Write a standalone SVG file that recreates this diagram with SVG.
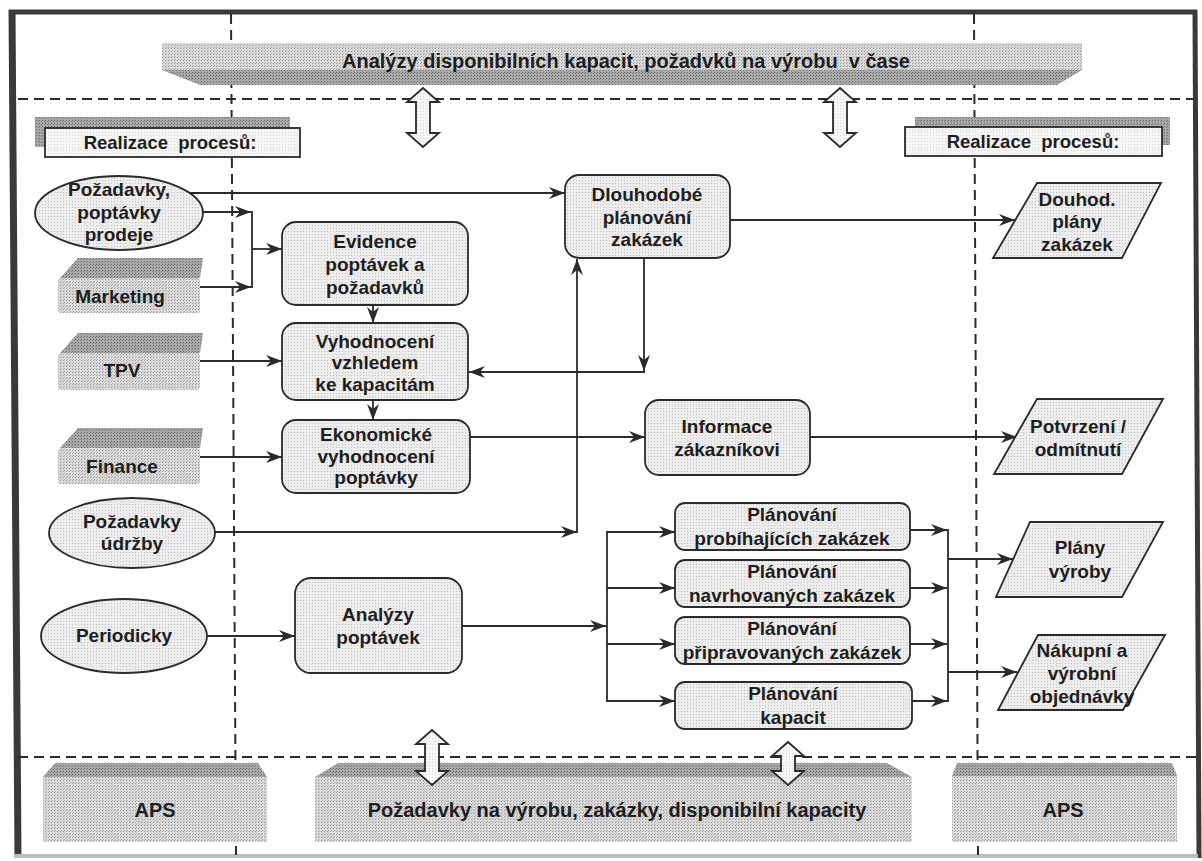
<svg xmlns="http://www.w3.org/2000/svg" width="1202" height="861" viewBox="0 0 1202 861">
  <defs>
    <!-- halftone-like fills -->
    <pattern id="dotL" width="3" height="3" patternUnits="userSpaceOnUse">
      <rect width="3" height="3" fill="#ededed"/>
      <rect width="1" height="1" fill="#c2c2c2"/>
    </pattern>
    <pattern id="dotW" width="3" height="3" patternUnits="userSpaceOnUse">
      <rect width="3" height="3" fill="#f6f6f6"/>
      <rect width="1" height="1" fill="#d6d6d6"/>
    </pattern>
    <pattern id="dotM" width="3" height="3" patternUnits="userSpaceOnUse">
      <rect width="3" height="3" fill="#d9d9d9"/>
      <rect width="1" height="1" fill="#9a9a9a"/>
      <rect x="1" y="2" width="1" height="1" fill="#b0b0b0"/>
    </pattern>
    <pattern id="dotD" width="3" height="3" patternUnits="userSpaceOnUse">
      <rect width="3" height="3" fill="#a9a9a9"/>
      <rect width="1" height="1" fill="#6a6a6a"/>
      <rect x="2" y="1" width="1" height="1" fill="#808080"/>
    </pattern>
    <marker id="arr" viewBox="0 0 16 12" markerWidth="16" markerHeight="12" refX="16" refY="6" orient="auto" markerUnits="userSpaceOnUse">
      <path d="M0,0 L16,6 L0,12 L5,6 Z" fill="#2b2b2b"/>
    </marker>
    <style>
      .t { font-family: "Liberation Sans", Arial, sans-serif; font-weight: bold; font-size: 19px; fill: #1e1e1e; text-anchor: middle; white-space: pre; }
      .big { font-size: 20px; }
      .lbl { font-size: 18.5px; }
      .node { fill: url(#dotL); stroke: #2b2b2b; stroke-width: 1.8; }
      .face { fill: url(#dotM); }
      .bevel { fill: url(#dotD); }
      .label { fill: url(#dotW); stroke: #2b2b2b; stroke-width: 1.8; }
      .dash { stroke: #2b2b2b; stroke-width: 2; stroke-dasharray: 10 6; fill: none; }
      .edge { stroke: #2b2b2b; stroke-width: 1.8; fill: none; }
      .dbl { fill: url(#dotW); stroke: #2b2b2b; stroke-width: 1.8; }
    </style>
  </defs>

  <rect width="1202" height="861" fill="#ffffff"/>

  <!-- outer frame -->
  <g id="frame">
    <line x1="9" y1="12" x2="1197" y2="12" stroke="#3a3a3a" stroke-width="5"/>
    <line x1="12" y1="10" x2="18" y2="858" stroke="#3a3a3a" stroke-width="7"/>
    <line x1="1195" y1="10" x2="1199" y2="858" stroke="#3a3a3a" stroke-width="5"/>
    <line x1="14" y1="856" x2="1198" y2="856" stroke="#bdbdbd" stroke-width="4"/>
  </g>

  <!-- swimlane separators -->
  <g id="lanes">
    <line class="dash" x1="18" y1="99" x2="1194" y2="99"/>
    <line class="dash" x1="18" y1="757" x2="1196" y2="757"/>
    <line class="dash" x1="231" y1="14" x2="236" y2="855"/>
    <line class="dash" x1="974" y1="14" x2="978" y2="855"/>
  </g>

  <!-- top banner -->
  <g id="banner-top">
    <rect class="face" x="162" y="43" width="920" height="27"/>
    <polygon class="bevel" points="162,70 1082,70 1057,85 200,85"/>
    <text class="t big" x="626" y="68">Analýzy disponibilních kapacit, požadvků na výrobu  v čase</text>
  </g>

  <!-- bottom banners -->
  <g id="aps-left">
    <polygon class="bevel" points="55,763 258,763 267,777 43,777"/>
    <rect class="face" x="43" y="777" width="224" height="65"/>
    <text class="t big" x="155" y="817">APS</text>
  </g>
  <g id="banner-bottom">
    <polygon class="bevel" points="338,763 887,763 912,777 315,777"/>
    <rect class="face" x="315" y="777" width="597" height="65"/>
    <text class="t big" x="617" y="817">Požadavky na výrobu, zakázky, disponibilní kapacity</text>
  </g>
  <g id="aps-right">
    <polygon class="bevel" points="957,763 1172,763 1177,776 952,776"/>
    <rect class="face" x="952" y="776" width="225" height="66"/>
    <text class="t big" x="1063" y="817">APS</text>
  </g>

  <!-- double arrows between layers -->
  <g id="exchange">
    <path class="dbl" d="M423,88 L439,102 L430,102 L430,133 L439,133 L423,147 L407,133 L416,133 L416,102 L407,102 Z"/>
    <path class="dbl" d="M840,88 L856,102 L847,102 L847,133 L856,133 L840,147 L824,133 L833,133 L833,102 L824,102 Z"/>
    <path class="dbl" d="M432,730 L448,744 L439,744 L439,771 L448,771 L432,785 L416,771 L425,771 L425,744 L416,744 Z"/>
    <path class="dbl" d="M788,742 L804,756 L795,756 L795,771 L804,771 L788,785 L772,771 L781,771 L781,756 L772,756 Z"/>
  </g>

  <!-- lane headings -->
  <g id="heading-left">
    <polygon class="bevel" points="35,117 290,117 290,128 45,128 45,147 35,147"/>
    <rect class="label" x="45" y="128" width="255" height="29"/>
    <text class="t lbl" x="170" y="149">Realizace  procesů:</text>
  </g>
  <g id="heading-right">
    <polygon class="bevel" points="915,117 1170,117 1170,145 1162,145 1162,127 915,127"/>
    <rect class="label" x="905" y="127" width="257" height="29"/>
    <text class="t lbl" x="1033" y="148">Realizace  procesů:</text>
  </g>

  <!-- connectors -->
  <g id="connectors">
    <line class="edge" x1="188" y1="193" x2="565" y2="193" marker-end="url(#arr)"/>
    <line class="edge" x1="202" y1="212" x2="251" y2="212" marker-end="url(#arr)"/>
    <line class="edge" x1="200" y1="287" x2="251" y2="287" marker-end="url(#arr)"/>
    <line class="edge" x1="252" y1="211" x2="252" y2="288"/>
    <line class="edge" x1="252" y1="249" x2="282" y2="249" marker-end="url(#arr)"/>
    <line class="edge" x1="373" y1="305" x2="373" y2="323" marker-end="url(#arr)"/>
    <line class="edge" x1="373" y1="400" x2="373" y2="420" marker-end="url(#arr)"/>
    <line class="edge" x1="200" y1="361" x2="282" y2="361" marker-end="url(#arr)"/>
    <line class="edge" x1="200" y1="457" x2="282" y2="457" marker-end="url(#arr)"/>
    <line class="edge" x1="644" y1="258" x2="644" y2="371" marker-end="url(#arr)"/>
    <line class="edge" x1="645" y1="372" x2="469" y2="372" marker-end="url(#arr)"/>
    <line class="edge" x1="469" y1="437" x2="645" y2="437" marker-end="url(#arr)"/>
    <line class="edge" x1="810" y1="437" x2="1017" y2="437" marker-end="url(#arr)"/>
    <line class="edge" x1="730" y1="220" x2="1015" y2="220" marker-end="url(#arr)"/>
    <line class="edge" x1="215" y1="532" x2="577" y2="532" marker-end="url(#arr)"/>
    <line class="edge" x1="577" y1="533" x2="577" y2="259" marker-end="url(#arr)"/>
    <line class="edge" x1="207" y1="636" x2="295" y2="636" marker-end="url(#arr)"/>
    <line class="edge" x1="462" y1="626" x2="606" y2="626" marker-end="url(#arr)"/>
    <line class="edge" x1="607" y1="531" x2="607" y2="702"/>
    <line class="edge" x1="607" y1="532" x2="675" y2="532" marker-end="url(#arr)"/>
    <line class="edge" x1="607" y1="588" x2="675" y2="588" marker-end="url(#arr)"/>
    <line class="edge" x1="607" y1="644" x2="675" y2="644" marker-end="url(#arr)"/>
    <line class="edge" x1="607" y1="701" x2="675" y2="701" marker-end="url(#arr)"/>
    <line class="edge" x1="910" y1="530" x2="947" y2="530" marker-end="url(#arr)"/>
    <line class="edge" x1="910" y1="588" x2="947" y2="588" marker-end="url(#arr)"/>
    <line class="edge" x1="910" y1="644" x2="947" y2="644" marker-end="url(#arr)"/>
    <line class="edge" x1="912" y1="701" x2="947" y2="701" marker-end="url(#arr)"/>
    <line class="edge" x1="948" y1="529" x2="948" y2="702"/>
    <line class="edge" x1="948" y1="559" x2="1013" y2="559" marker-end="url(#arr)"/>
    <line class="edge" x1="948" y1="672" x2="1017" y2="672" marker-end="url(#arr)"/>
  </g>

  <!-- sources -->
  <g id="n-pozadavky-prodeje">
    <ellipse class="node" cx="119" cy="213" rx="84" ry="37"/>
    <text class="t" x="119" y="196">Požadavky,</text>
    <text class="t" x="119" y="219">poptávky</text>
    <text class="t" x="119" y="241">prodeje</text>
  </g>
  <g id="n-marketing">
    <polygon class="bevel" points="60,278 78,258 203,258 200,278"/>
    <rect class="face" x="58" y="278" width="142" height="35" rx="3"/>
    <text class="t" x="120" y="303">Marketing</text>
  </g>
  <g id="n-tpv">
    <polygon class="bevel" points="60,353 78,333 203,333 200,353"/>
    <rect class="face" x="58" y="353" width="142" height="37" rx="3"/>
    <text class="t" x="122" y="377">TPV</text>
  </g>
  <g id="n-finance">
    <polygon class="bevel" points="60,448 78,428 203,428 200,448"/>
    <rect class="face" x="58" y="448" width="142" height="36" rx="3"/>
    <text class="t" x="122" y="473">Finance</text>
  </g>
  <g id="n-pozadavky-udrzby">
    <ellipse class="node" cx="132" cy="533" rx="83" ry="35"/>
    <text class="t" x="132" y="528">Požadavky</text>
    <text class="t" x="132" y="550">údržby</text>
  </g>
  <g id="n-periodicky">
    <ellipse class="node" cx="124" cy="636" rx="83" ry="37"/>
    <text class="t" x="124" y="642">Periodicky</text>
  </g>

  <!-- processes -->
  <g id="n-evidence">
    <rect class="node" x="282" y="222" width="186" height="83" rx="14"/>
    <text class="t" x="375" y="248">Evidence</text>
    <text class="t" x="375" y="271">poptávek a</text>
    <text class="t" x="375" y="294">požadavků</text>
  </g>
  <g id="n-vyhodnoceni">
    <rect class="node" x="282" y="323" width="186" height="77" rx="14"/>
    <text class="t" x="375" y="348">Vyhodnocení</text>
    <text class="t" x="375" y="369">vzhledem</text>
    <text class="t" x="375" y="391">ke kapacitám</text>
  </g>
  <g id="n-ekonomicke">
    <rect class="node" x="282" y="420" width="188" height="73" rx="14"/>
    <text class="t" x="376" y="441">Ekonomické</text>
    <text class="t" x="376" y="463">vyhodnocení</text>
    <text class="t" x="376" y="484">poptávky</text>
  </g>
  <g id="n-dlouhodobe">
    <rect class="node" x="565" y="175" width="165" height="83" rx="14"/>
    <text class="t" x="647" y="201">Dlouhodobé</text>
    <text class="t" x="647" y="224">plánování</text>
    <text class="t" x="647" y="246">zakázek</text>
  </g>
  <g id="n-informace">
    <rect class="node" x="645" y="400" width="165" height="75" rx="14"/>
    <text class="t" x="727" y="433">Informace</text>
    <text class="t" x="727" y="456">zákazníkovi</text>
  </g>
  <g id="n-analyzy">
    <rect class="node" x="295" y="578" width="167" height="95" rx="16"/>
    <text class="t" x="378" y="621">Analýzy</text>
    <text class="t" x="378" y="644">poptávek</text>
  </g>
  <g id="n-plan-probihajici">
    <rect class="node" x="675" y="503" width="235" height="47" rx="10"/>
    <text class="t" x="792" y="521">Plánování</text>
    <text class="t" x="792" y="545">probíhajících zakázek</text>
  </g>
  <g id="n-plan-navrhovane">
    <rect class="node" x="675" y="560" width="235" height="47" rx="10"/>
    <text class="t" x="792" y="578">Plánování</text>
    <text class="t" x="792" y="602">navrhovaných zakázek</text>
  </g>
  <g id="n-plan-pripravovane">
    <rect class="node" x="675" y="617" width="235" height="47" rx="10"/>
    <text class="t" x="792" y="635">Plánování</text>
    <text class="t" x="792" y="659">připravovaných zakázek</text>
  </g>
  <g id="n-plan-kapacit">
    <rect class="node" x="675" y="682" width="237" height="47" rx="10"/>
    <text class="t" x="793" y="700">Plánování</text>
    <text class="t" x="793" y="724">kapacit</text>
  </g>

  <!-- outputs -->
  <g id="n-douhod-plany">
    <polygon class="node" points="1037,183 1161,183 1122,258 993,258"/>
    <text class="t" x="1077" y="206">Douhod.</text>
    <text class="t" x="1077" y="228">plány</text>
    <text class="t" x="1077" y="251">zakázek</text>
  </g>
  <g id="n-potvrzeni">
    <polygon class="node" points="1037,399 1163,399 1122,474 994,474"/>
    <text class="t" x="1078" y="433">Potvrzení /</text>
    <text class="t" x="1078" y="456">odmítnutí</text>
  </g>
  <g id="n-plany-vyroby">
    <polygon class="node" points="1030,522 1163,522 1122,597 996,597"/>
    <text class="t" x="1080" y="554">Plány</text>
    <text class="t" x="1080" y="578">výroby</text>
  </g>
  <g id="n-objednavky">
    <polygon class="node" points="1038,635 1165,635 1123,710 998,710"/>
    <text class="t" x="1082" y="657">Nákupní a</text>
    <text class="t" x="1082" y="680">výrobní</text>
    <text class="t" x="1082" y="703">objednávky</text>
  </g>
</svg>
